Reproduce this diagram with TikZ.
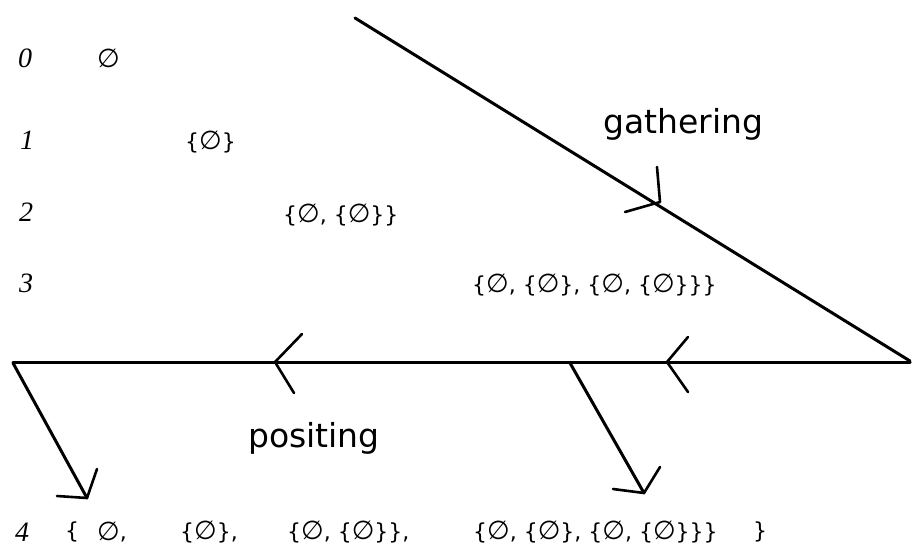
\documentclass[tikz,border=0pt]{standalone}
\usepackage{fontspec}
\setmainfont{DejaVu Sans}
\newfontfamily\numfont{Liberation Serif}
\newcommand\es{\raisebox{-0.5pt}{\fontsize{26}{26}\selectfont ∅}}
\begin{document}
\begin{tikzpicture}[x=1pt,y=-1pt,
  lbl/.style={font=\numfont\itshape\fontsize{28}{28}\selectfont, inner sep=0pt, anchor=west},
  setx/.style={font=\fontsize{22}{22}\selectfont, inner sep=0pt, anchor=west},
  word/.style={font=\fontsize{33}{33}\selectfont, inner sep=0pt, anchor=base west},
  ln/.style={line width=3pt, line cap=round},
  barb/.style={line width=2.6pt, line cap=round, line join=round}]
\useasboundingbox (0,0) rectangle (912,551);
% row labels
\node[lbl] (n0) at (18,58) {0};
\node[lbl] (n1) at (20,140) {1};
\node[lbl] (n2) at (19,212) {2};
\node[lbl] (n3) at (19,283) {3};
\node[lbl] (n4) at (15,532) {4};
% sets
\node[setx] (s0) at (97,58) {\es};
\node[setx] (s1) at (185,142) {\{\es\}};
\node[setx] (s2) at (283,215) {\{\es, \{\es\}\}};
\node[setx] (s3) at (472,285) {\{\es, \{\es\}, \{\es, \{\es\}\}\}};
\node[setx] (t0) at (65,532) {\{};
\node[setx] (t1) at (97,532) {\es,};
\node[setx] (t2) at (180,532) {\{\es\},};
\node[setx] (t3) at (287,532) {\{\es, \{\es\}\},};
\node[setx] (t4) at (473,532) {\{\es, \{\es\}, \{\es, \{\es\}\}\}};
\node[setx] (t5) at (753,532) {\}};
% words
\node[word] (gw) at (603,133) {gathering};
\node[word] (pw) at (248,447) {positing};
% main lines
\coordinate (g0) at (355,18);
\coordinate (g1) at (910,361);
\coordinate (h0) at (13,362);
\coordinate (h1) at (910,362);
\draw[ln] (g0) -- (g1);
\draw[ln] (h1) -- (h0);
% gathering arrowhead
\coordinate (ga) at (660,202);
\coordinate (ga1) at (657,167);
\coordinate (ga2) at (625,212);
\draw[barb] (ga1) -- (ga) -- (ga2);
% right arrowhead on horizontal line
\coordinate (ra) at (667,362);
\coordinate (ra1) at (688,337);
\coordinate (ra2) at (688,392);
\draw[barb] (ra1) -- (ra) -- (ra2);
% left arrowhead on horizontal line
\coordinate (la) at (275,362);
\coordinate (la1) at (302,334);
\coordinate (la2) at (294,393);
\draw[barb] (la1) -- (la) -- (la2);
% down arrow 1
\coordinate (d1s) at (13,363);
\coordinate (d1t) at (87,498);
\coordinate (d1a) at (97,469);
\coordinate (d1b) at (57,496);
\draw[ln] (d1s) -- (d1t);
\draw[barb] (d1a) -- (d1t) -- (d1b);
% down arrow 2
\coordinate (d2s) at (570,363);
\coordinate (d2t) at (644,493);
\coordinate (d2a) at (660,467);
\coordinate (d2b) at (613,489);
\draw[ln] (d2s) -- (d2t);
\draw[barb] (d2a) -- (d2t) -- (d2b);
\end{tikzpicture}
\end{document}
